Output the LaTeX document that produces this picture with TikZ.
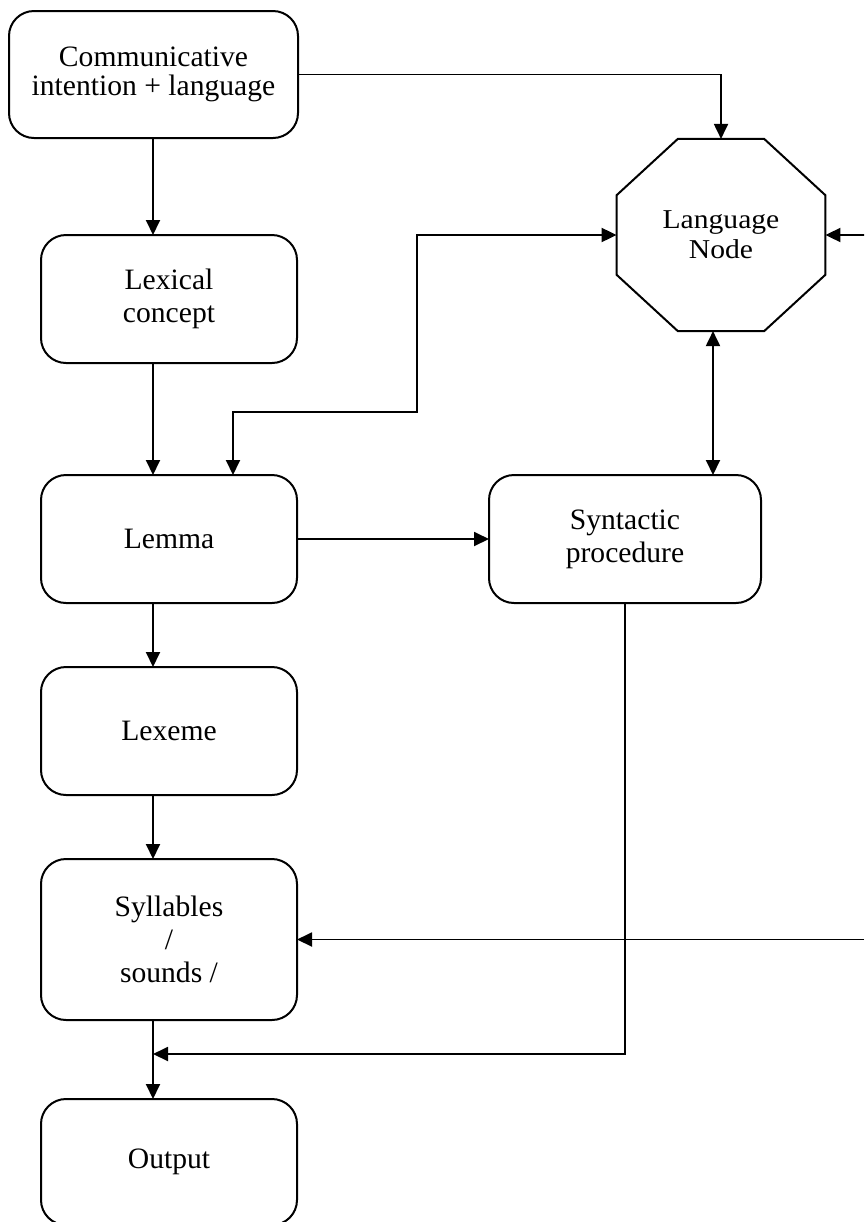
\documentclass[tikz,border=0pt]{standalone}
\usepackage{fontspec}
\setmainfont{Liberation Serif}
\usetikzlibrary{arrows.meta,positioning,shapes.geometric}

\begin{document}
\begin{tikzpicture}[x=0.5pt,y=0.5pt,node distance=32pt,
    box/.style={draw,line width=1pt,rounded corners=12.5pt,outer sep=0pt,minimum width=128pt,minimum height=64pt,align=center,font=\fontsize{14.8}{16.5}\selectfont},
    octa/.style={draw,line width=1pt,regular polygon,regular polygon sides=8,outer sep=0pt,minimum size=113pt,inner sep=0pt,yscale=0.92,align=center,font=\fontsize{14.8}{16.5}\selectfont},
    arr/.style={-{Triangle[length=7.5pt,width=7pt]},line width=0.95pt},
    biarr/.style={{Triangle[length=7.5pt,width=7pt]}-{Triangle[length=7.5pt,width=7pt]},line width=0.95pt}]
  \useasboundingbox (0,0) rectangle (864,-1222);
  \node[box,minimum width=144.5pt,minimum height=63.5pt,font=\fontsize{14.8}{14.5}\selectfont] (comm) at (153.5,-74.5) {Communicative\\intention + language};
  \node[box] (lexcon) at (169,-299) {Lexical\\concept};
  \node[box] (lemma) at (169,-539) {Lemma};
  \node[box,below=of lemma] (lexeme) {Lexeme};
  \node[box,below=of lexeme,minimum height=80.5pt] (syll) {Syllables\\/\\sounds /};
  \node[box,below=39.5pt of syll,minimum height=63pt] (output) {Output};
  \node[box,minimum width=136pt] (synt) at (625,-539) {Syntactic\\procedure};
  \node[octa] (lang) at (721,-235) {Language\\Node};
  \coordinate (spine) at (153,0);
  \coordinate (bend) at (417,-412);
  \coordinate (merge) at (153,-1054);
  \coordinate (rimtop) at (864,-235);
  \coordinate (rimlow) at (864,-939.5);
  \draw[arr] (comm.south -| spine) -- (lexcon.north -| spine);
  \draw[arr] (lexcon.south -| spine) -- (lemma.north -| spine);
  \draw[arr] (lemma.south -| spine) -- (lexeme.north -| spine);
  \draw[arr] (lexeme.south -| spine) -- (syll.north -| spine);
  \draw[arr] (syll.south -| spine) -- (output.north -| spine);
  \draw[arr] (comm.east) -| (lang.north);
  \draw[biarr] ([xshift=32pt]lemma.north) |- (bend) |- (lang.west);
  \draw[arr] (lemma.east) -- (synt.west);
  \draw[biarr] ([xshift=44pt]synt.north) -- ([xshift=44pt]synt.north |- lang.south);
  \draw[arr] (rimtop) -- (lang.east);
  \draw[arr] (rimlow) -- (syll.east);
  \draw[arr] (synt.south) |- (merge);
\end{tikzpicture}
\end{document}
